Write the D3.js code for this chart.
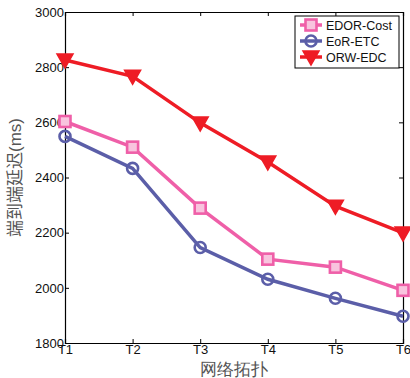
<!DOCTYPE html>
<html>
<head>
<meta charset="utf-8">
<script src="https://cdn.jsdelivr.net/npm/d3@7"></script>
<style>
  body { margin: 0; background: #fff; }
  text { font-family: "Liberation Sans", Arial, sans-serif; }
</style>
</head>
<body>
<div id="root"></div>
<script>
const topologies = ['T1', 'T2', 'T3', 'T4', 'T5', 'T6']
const yTicks = [1800, 2000, 2200, 2400, 2600, 2800, 3000]
const edorCost = [2603, 2510, 2289, 2104, 2075, 1991]
const eorEtc = [2549, 2433, 2146, 2031, 1962, 1897]
const orwEdc = [2826, 2767, 2598, 2456, 2296, 2199]

const seriesList = [
  { name: 'EDOR-Cost', values: edorCost, color: '#ef5fa8', marker: 'square' },
  { name: 'EoR-ETC', values: eorEtc, color: '#5b5ea8', marker: 'circle' },
  { name: 'ORW-EDC', values: orwEdc, color: '#ee1c25', marker: 'triangle' }
]

const width = 410, height = 378
const margin = { left: 65, right: 7, top: 12, bottom: 35 }

const svg = d3.select('#root').append('svg')
  .attr('width', width)
  .attr('height', height)

const x = d3.scalePoint()
  .domain(topologies)
  .range([margin.left, width - margin.right])

const y = d3.scaleLinear()
  .domain([1800, 3000])
  .range([height - margin.bottom, margin.top])

// axes (box with mirrored ticks)
const tickLen = 4
svg.append('g')
  .attr('transform', `translate(0,${height - margin.bottom})`)
  .call(d3.axisBottom(x).tickSize(-tickLen).tickPadding(2))
svg.append('g')
  .attr('transform', `translate(0,${margin.top})`)
  .call(d3.axisTop(x).tickSize(-tickLen).tickFormat(''))
svg.append('g')
  .attr('transform', `translate(${margin.left},0)`)
  .call(d3.axisLeft(y).tickValues(yTicks).tickFormat(d3.format('d')).tickSize(-tickLen).tickPadding(1))
svg.append('g')
  .attr('transform', `translate(${width - margin.right},0)`)
  .call(d3.axisRight(y).tickValues(yTicks).tickSize(-tickLen).tickFormat(''))

svg.selectAll('.domain').attr('stroke', '#000').attr('stroke-width', 1.2)
svg.selectAll('.tick line').attr('stroke', '#000')
svg.selectAll('.tick text').attr('font-size', 13).attr('fill', '#111')
  .attr('font-family', '"Liberation Sans", Arial, sans-serif')

// axis titles
svg.append('text')
  .attr('x', (margin.left + width - margin.right) / 2)
  .attr('y', height - 3)
  .attr('text-anchor', 'middle')
  .attr('font-size', 17)
  .attr('fill', '#555')
  .attr('font-family', '"Noto Sans CJK SC", sans-serif')
  .text('网络拓扑')

const yTitle = svg.append('text')
  .attr('transform', `translate(21,${(margin.top + height - margin.bottom) / 2}) rotate(-90)`)
  .attr('text-anchor', 'middle')
  .attr('font-size', 17)
  .attr('fill', '#555')
yTitle.append('tspan')
  .attr('font-family', '"Noto Sans CJK SC", sans-serif')
  .text('端到端延迟')
yTitle.append('tspan')
  .attr('font-family', '"Liberation Sans", Arial, sans-serif')
  .text('(ms)')

function drawMarker(g, type, color) {
  if (type === 'square') {
    g.append('rect').attr('x', -5.5).attr('y', -5.5).attr('width', 11).attr('height', 11)
      .attr('fill', '#f8c4de').attr('stroke', color).attr('stroke-width', 2.6)
  } else if (type === 'circle') {
    g.append('circle').attr('r', 5.5)
      .attr('fill', 'none').attr('stroke', color).attr('stroke-width', 2.6)
  } else {
    g.append('path').attr('d', 'M-8,-6L8,-6L0,8Z')
      .attr('fill', color).attr('stroke', color).attr('stroke-width', 1.5)
  }
}

const line = d3.line()
  .x((d, i) => x(topologies[i]))
  .y(d => y(d))

seriesList.forEach(s => {
  svg.append('path')
    .datum(s.values)
    .attr('d', line)
    .attr('fill', 'none')
    .attr('stroke', s.color)
    .attr('stroke-width', 3.5)
  s.values.forEach((v, i) => {
    const g = svg.append('g').attr('transform', `translate(${x(topologies[i])},${y(v)})`)
    drawMarker(g, s.marker, s.color)
  })
})

// legend
const legend = svg.append('g').attr('transform', 'translate(295,16)')
legend.append('rect')
  .attr('width', 104).attr('height', 52)
  .attr('fill', '#fff').attr('stroke', '#000').attr('stroke-width', 1)
seriesList.forEach((s, i) => {
  const row = legend.append('g').attr('transform', `translate(0,${9 + i * 16})`)
  row.append('line').attr('x1', 5).attr('x2', 27).attr('y1', 0).attr('y2', 0)
    .attr('stroke', s.color).attr('stroke-width', 3.5)
  const m = row.append('g').attr('transform', 'translate(16,0)')
  drawMarker(m, s.marker, s.color)
  row.append('text')
    .attr('x', 31).attr('y', 4.5)
    .attr('font-size', 12.5)
    .attr('fill', '#111')
    .text(s.name)
})
</script>
</body>
</html>
